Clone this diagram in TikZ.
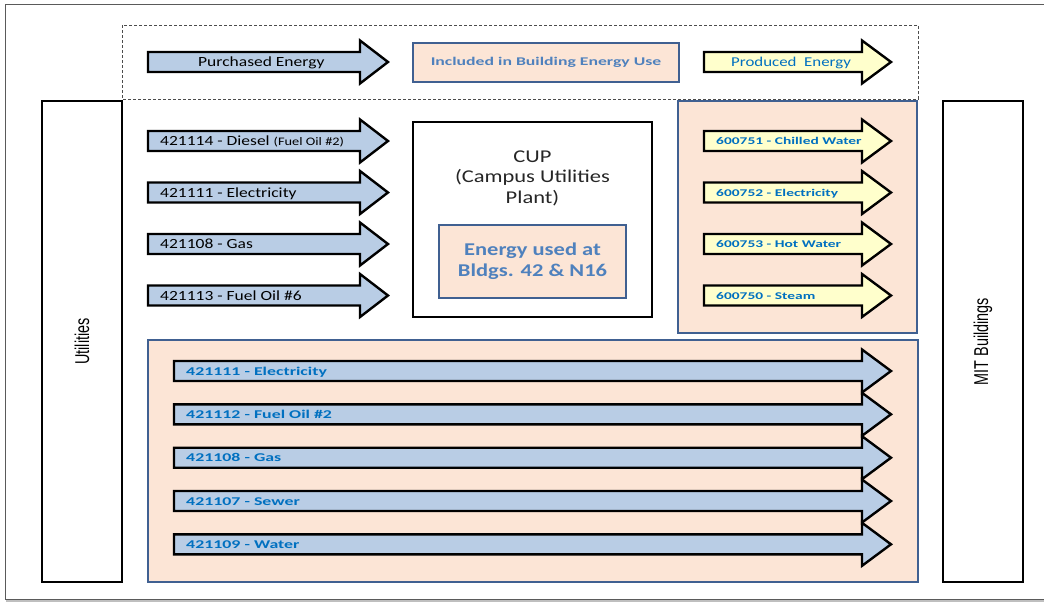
\documentclass[tikz,border=0pt]{standalone}
\usepackage{fontspec}
\setmainfont{Carlito}
\newfontfamily\calreg[FakeStretch=1.25]{Carlito}
\newfontfamily\calwide[FakeStretch=1.5]{Carlito}
\newfontfamily\narrowsf[FakeStretch=0.72]{Liberation Sans}
\definecolor{arrowblue}{RGB}{185,205,229}
\definecolor{arrowyellow}{RGB}{255,255,204}
\definecolor{peach}{RGB}{252,229,214}
\definecolor{panelblue}{RGB}{64,96,145}
\definecolor{txtblue}{RGB}{0,112,192}
\definecolor{softblue}{RGB}{79,129,189}
\definecolor{framegray}{RGB}{90,90,90}

% fat block arrow: start x, head base x, tip x, centre y, fill
\newcommand{\fatarrow}[5]{%
  \draw[arrowline,fill=#5] (#1,#4-10) -- (#2,#4-10) -- (#2,#4-21.5) -- (#3,#4)
    -- (#2,#4+21.5) -- (#2,#4+10) -- (#1,#4+10) -- cycle;}

\begin{document}
\begin{tikzpicture}[x=1pt,y=-1pt,line join=miter,
    arrowline/.style={draw=black,line width=2.4pt},
    panel/.style={draw=panelblue,line width=1.8pt,fill=peach,inner sep=0pt,outer sep=0pt},
    sidebox/.style={draw=black,line width=2.4pt,fill=white,inner sep=0pt},
    plainlbl/.style={anchor=base west,inner sep=0pt,font=\calreg\fontsize{14}{16}\selectfont},
    boldlbl/.style={anchor=base west,inner sep=0pt,text=txtblue,font=\calwide\bfseries\fontsize{11.9}{14}\selectfont},
    prodlbl/.style={boldlbl,font=\calwide\bfseries\fontsize{10.3}{12}\selectfont}]
  \useasboundingbox (0,0) rectangle (1044,605);
  % page frame
  \draw[black!25,line width=2pt] (6,601) -- (1044,601);
  \draw[framegray,line width=0.9pt] (5,4) rectangle (1060,599);
  % legend
  \draw[dashed,dash pattern=on 3pt off 2pt,line width=0.7pt,black!70] (122,25) rectangle (918,99);
  \fatarrow{148}{360}{388}{62}{arrowblue}
  \node[plainlbl] (legbuy) at (198,66) {Purchased Energy};
  \node[panel,minimum width=266pt,minimum height=39pt,text=softblue,
        font=\calwide\bfseries\fontsize{11.8}{14}\selectfont] (legincl) at (546,62.5) {Included in Building Energy Use};
  \fatarrow{704}{862}{891}{62}{arrowyellow}
  \node[plainlbl,text=txtblue,font=\calreg\fontsize{13.5}{16}\selectfont] (legmade) at (731,66) {Produced\ \ Energy};
  % sources and users
  \node[sidebox,rotate=90,minimum width=481pt,minimum height=80pt,
        font=\narrowsf\fontsize{20}{22}\selectfont] (util) at (82,341.5) {Utilities};
  \node[sidebox,rotate=90,minimum width=481pt,minimum height=80pt,
        font=\narrowsf\fontsize{20}{22}\selectfont] (mit) at (983,341.5) {MIT Buildings};
  % CUP
  \node[draw=black,line width=2pt,minimum width=239pt,minimum height=195pt] (cup) at (532.5,219.5) {};
  \node[align=center,text=black!85,font=\calreg\fontsize{18}{20.5}\selectfont] (cuptxt) at (532.5,178) {CUP\\(Campus Utilities\\Plant)};
  \node[panel,minimum width=187pt,minimum height=73pt,align=center,text=softblue,
        font=\calreg\bfseries\fontsize{18}{21}\selectfont] (bldg) at (532.5,261.5) {Energy used at\\Bldgs. 42 \& N16};
  \foreach \y/\nm/\txt in {141/dsl/{421114 - Diesel {\fontsize{11.5}{13}\selectfont(Fuel Oil \#2)}},
      192.5/elec/{421111 - Electricity},244/gas/{421108 - Gas},295.5/oil/{421113 - Fuel Oil \#6}}{
    \fatarrow{148}{360}{388}{\y}{arrowblue}
    \node[plainlbl] (in-\nm) at (160,\y+4.5) {\txt};
  }
  % produced at CUP
  \node[panel,minimum width=239pt,minimum height=232pt] (prod) at (797.5,217) {};
  \foreach \y/\nm/\txt in {141/chw/{600751 - Chilled Water},192.5/elec/{600752 - Electricity},
      244/hw/{600753 - Hot Water},295.5/stm/{600750 - Steam}}{
    \fatarrow{704}{862}{891}{\y}{arrowyellow}
    \node[prodlbl] (out-\nm) at (716,\y+3.8) {\txt};
  }
  % straight to buildings
  \node[panel,minimum width=770pt,minimum height=242pt] (direct) at (533,461) {};
  \foreach \y/\nm/\txt in {371/elec/{421111 - Electricity},414.3/oil/{421112 - Fuel Oil \#2},
      457.7/gas/{421108 - Gas},501/sew/{421107 - Sewer},544.3/wat/{421109 - Water}}{
    \fatarrow{174}{862}{891}{\y}{arrowblue}
    \node[boldlbl] (dir-\nm) at (186,\y+4) {\txt};
  }
\end{tikzpicture}
\end{document}
